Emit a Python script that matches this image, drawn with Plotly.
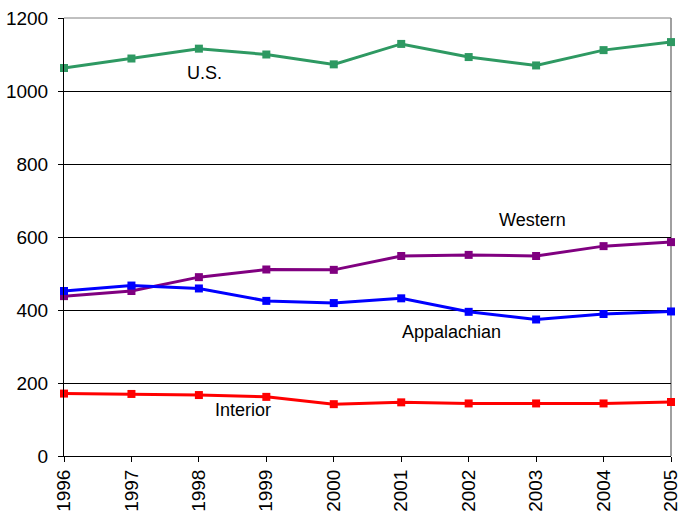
import plotly.graph_objects as go

years = [1996, 1997, 1998, 1999, 2000, 2001, 2002, 2003, 2004, 2005]
us = [1063, 1089, 1116, 1100, 1073, 1129, 1093, 1070, 1112, 1134]
western = [438, 452, 490, 511, 510, 548, 551, 548, 575, 586]
appalachian = [452, 467, 459, 425, 419, 432, 395, 374, 389, 396]
interior = [171, 170, 167, 162, 142, 147, 144, 144, 144, 148]

series = [
    ("U.S.", us, "#2E9962"),
    ("Western", western, "#800080"),
    ("Appalachian", appalachian, "#0000FF"),
    ("Interior", interior, "#FF0000"),
]

fig = go.Figure()
for name, vals, col in series:
    fig.add_trace(go.Scatter(
        x=years, y=vals, mode="lines+markers", name=name,
        line=dict(color=col, width=3),
        marker=dict(symbol="square", size=8, color=col),
        cliponaxis=False,
    ))

labels = [("U.S.", 1998.08, 1050), ("Western", 2002.95, 647),
          ("Appalachian", 2001.75, 340), ("Interior", 1998.66, 125)]
for txt, x, y in labels:
    fig.add_annotation(x=x, y=y, text=txt, showarrow=False,
                       font=dict(family="Liberation Sans, Arial", size=18, color="#000000"))

fig.update_layout(
    width=679, height=516,
    margin=dict(l=64, r=8, t=18, b=60, autoexpand=False),
    paper_bgcolor="white", plot_bgcolor="white",
    showlegend=False,
    font=dict(family="Liberation Sans, Arial", size=19, color="#000000"),
    xaxis=dict(range=[1996, 2005], tickmode="array", tickvals=years,
               ticktext=[str(y) for y in years], tickangle=-90, automargin=False,
               ticklabeloverflow="allow",
               showgrid=False, showline=True, linecolor="#000000", linewidth=1,
               ticks="outside", ticklen=5, tickcolor="#000000", zeroline=False),
    yaxis=dict(range=[0, 1200], tickmode="array", tickvals=[0, 200, 400, 600, 800, 1000, 1200],
               showgrid=True, gridcolor="#000000", gridwidth=1, automargin=False,
               ticklabeloverflow="allow",
               showline=True, linecolor="#000000", linewidth=1,
               ticks="outside", ticklen=5, tickcolor="#000000", zeroline=False,
               ticklabelstandoff=6),
)
fig.add_shape(type="line", xref="paper", yref="paper", x0=1, x1=1, y0=0, y1=1,
              line=dict(color="#A0A0A0", width=2), layer="below")
fig.add_shape(type="line", xref="paper", yref="paper", x0=0, x1=1, y0=1, y1=1,
              line=dict(color="#808080", width=1), layer="below")

fig.write_html("out.html", config={"displayModeBar": False},
               post_script="document.body.style.margin='0';document.body.style.overflow='hidden';")
